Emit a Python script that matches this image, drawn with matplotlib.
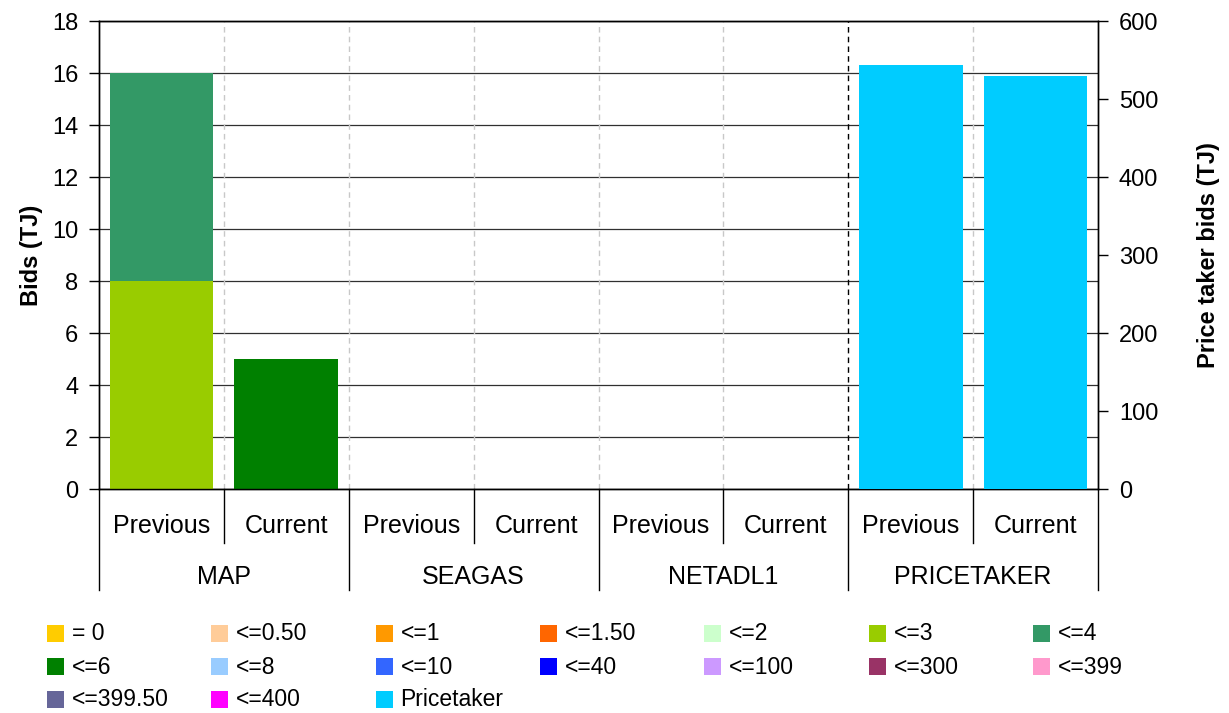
"""
Bids by price band, previous vs current, with price taker bids on a second axis.
"""

import matplotlib
matplotlib.use("Agg")
import matplotlib.pyplot as plt
from matplotlib.patches import Rectangle

plt.rcParams["font.family"] = ["Liberation Sans", "DejaVu Sans"]

groups = ["MAP", "SEAGAS", "NETADL1", "PRICETAKER"]
periods = ["Previous", "Current"]

bands = [
    "= 0", "<=0.50", "<=1", "<=1.50", "<=2", "<=3", "<=4",
    "<=6", "<=8", "<=10", "<=40", "<=100", "<=300", "<=399",
    "<=399.50", "<=400", "Pricetaker",
]
band_colors = [
    "#FFCC00", "#FFCC99", "#FF9900", "#FF6600", "#CCFFCC", "#99CC00", "#339966",
    "#008000", "#99CCFF", "#3366FF", "#0000FF", "#CC99FF", "#993366", "#FF99CC",
    "#666699", "#FF00FF", "#00CCFF",
]

# bids (TJ) per band, one value per slot: MAP prev, MAP cur, SEAGAS prev, ...
band_values = {
    "<=3": [8, 0, 0, 0, 0, 0, 0, 0],
    "<=4": [8, 0, 0, 0, 0, 0, 0, 0],
    "<=6": [0, 5, 0, 0, 0, 0, 0, 0],
}
# price taker bids (TJ), right axis
pricetaker_values = [0, 0, 0, 0, 0, 0, 543, 530]

n_slots = len(groups) * len(periods)
xs = [i + 0.5 for i in range(n_slots)]
bar_w = 0.83

W, H = 1229, 713
fig = plt.figure(figsize=(W / 100, H / 100), dpi=100)
ax = fig.add_axes([99 / W, 1 - 489 / H, 999 / W, 468 / H])
ax2 = ax.twinx()

bottom = [0] * n_slots
for band, color in zip(bands, band_colors):
    if band not in band_values:
        continue
    vals = band_values[band]
    ax.bar(xs, vals, width=bar_w, bottom=bottom, color=color, zorder=3)
    bottom = [b + v for b, v in zip(bottom, vals)]

ax2.bar(xs, pricetaker_values, width=bar_w, color="#00CCFF", zorder=3)

ax.set_xlim(0, n_slots)
ax.set_ylim(0, 18)
ax.set_yticks(range(0, 19, 2))
ax2.set_ylim(0, 600)
ax2.set_yticks(range(0, 601, 100))

ax.yaxis.grid(True, color="#303030", linewidth=0.9, zorder=0)
ax.set_axisbelow(True)
for i in range(1, n_slots):
    if i == 6:
        ax.axvline(i, color="black", linestyle=(0, (4, 3)), linewidth=1.0, zorder=1)
    else:
        ax.axvline(i, color="#C8C8C8", linestyle=(0, (4, 3)), linewidth=1.0, zorder=1)

ax.set_xticks([])
for a in (ax, ax2):
    a.tick_params(axis="y", direction="out", length=7, labelsize=17, width=1, pad=8)
    for s in a.spines.values():
        s.set_linewidth(1)

ax.set_ylabel("Bids (TJ)", fontsize=17, fontweight="bold", labelpad=6)
ax2.set_ylabel("Price taker bids (TJ)", fontsize=17, fontweight="bold", labelpad=28)

# category axis below the plot
trans = ax.get_xaxis_transform()
for i in range(n_slots + 1):
    low = -0.216 if i % 2 == 0 else -0.115
    ax.plot([i, i], [0, low], color="black", linewidth=1, transform=trans, clip_on=False)
for i, x in enumerate(xs):
    ax.text(x, -0.079, periods[i % 2], ha="center", va="center",
            fontsize=18, transform=trans)
for g, name in enumerate(groups):
    ax.text(2 * g + 1, -0.188, name, ha="center", va="center",
            fontsize=18, transform=trans)

# legend: 7 evenly spaced columns, filled row by row
ncol = 7
for k, (label, color) in enumerate(zip(bands, band_colors)):
    row, col = divmod(k, ncol)
    x0 = 47 + col * 164.3
    yc = 634 + row * 33
    fig.add_artist(Rectangle((x0 / W, 1 - (yc + 8) / H), 17 / W, 17 / H,
                             transform=fig.transFigure, facecolor=color,
                             edgecolor="none"))
    fig.text((x0 + 25) / W, 1 - yc / H, label, ha="left", va="center",
             fontsize=16.5)

fig.savefig("out.png", dpi=100)
plt.close(fig)
